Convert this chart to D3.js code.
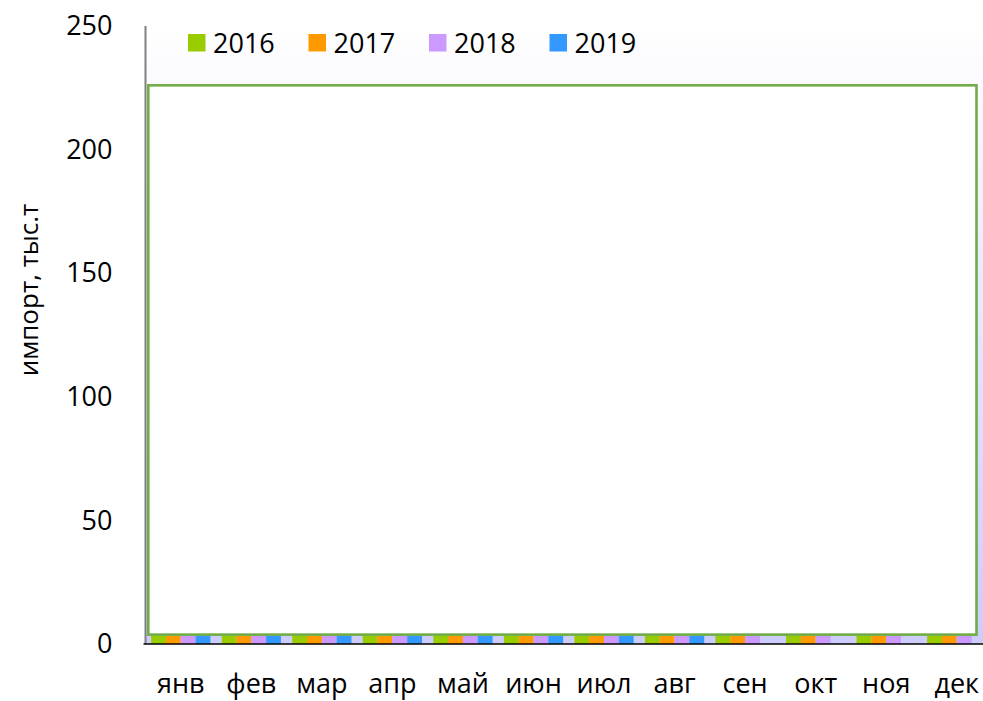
<!DOCTYPE html>
<html><head><meta charset="utf-8">
<script src="https://cdn.jsdelivr.net/npm/d3@7"></script>
<style>body{margin:0;background:#fff;overflow:hidden}</style>
</head><body>
<script>
const months = ["янв","фев","мар","апр","май","июн","июл","авг","сен","окт","ноя","дек"];
const seriesNames = ["2016","2017","2018","2019"];
const v2016 = [3.5,3.5,3.5,3.5,3.5,3.5,3.5,3.5,3.5,3.5,3.5,3.5];
const v2017 = [3.5,3.5,3.5,3.5,3.5,3.5,3.5,3.5,3.5,3.5,3.5,3.5];
const v2018 = [3.5,3.5,3.5,3.5,3.5,3.5,3.5,3.5,3.5,3.5,3.5,3.5];
const v2019 = [3.5,3.5,3.5,3.5,3.5,3.5,3.5,3.5,null,null,null,null];
const colors = ["#99cc00","#ff9900","#cc99ff","#3399ff"];
const yTicks = [0,50,100,150,200,250];
const yTitle = "импорт, тыс.т";
const boxRange = [3.8, 226]; // highlighted frame, in data units

const W = 983, H = 701;
const font = "'Open Sans', 'Liberation Sans', Arial, sans-serif";
const svg = d3.select("body").append("svg").attr("width", W).attr("height", H);
const pLeft = 145.5, pRight = 992, pTop = 26, pBottom = 644;

const x = d3.scaleBand().domain(months).range([pLeft, pRight]).paddingInner(0.16).paddingOuter(0.08);
const xs = d3.scaleBand().domain(seriesNames).range([0, x.bandwidth()]);
const y = d3.scaleLinear().domain([0, 250]).range([pBottom, pTop]);

const defs = svg.append("defs");
const g = defs.append("linearGradient").attr("id","bg").attr("x1",0).attr("y1",0).attr("x2",0).attr("y2",1);
g.append("stop").attr("offset","0%").attr("stop-color","#ffffff");
g.append("stop").attr("offset","100%").attr("stop-color","#ccccff");

svg.append("rect").attr("x", pLeft).attr("y", pTop).attr("width", W - pLeft).attr("height", pBottom - pTop).attr("fill","url(#bg)");

const data = [v2016, v2017, v2018, v2019];
seriesNames.forEach((s, i) => {
  svg.append("g").selectAll("rect").data(months.map((m, j) => ({m, v: data[i][j]})).filter(d => d.v != null))
    .join("rect")
    .attr("x", d => x(d.m) + xs(s))
    .attr("width", xs.bandwidth())
    .attr("y", d => y(d.v))
    .attr("height", d => y(0) - y(d.v))
    .attr("fill", colors[i]);
});

// highlighted frame
svg.append("rect")
  .attr("x", pLeft + 2.8).attr("width", 976.5 - pLeft - 2.8)
  .attr("y", y(boxRange[1])).attr("height", y(boxRange[0]) - y(boxRange[1]))
  .attr("fill", "#ffffff").attr("stroke", "#70ad47").attr("stroke-width", 2.6);

// axes
svg.append("line").attr("x1", pLeft).attr("x2", pLeft).attr("y1", pTop).attr("y2", pBottom)
  .attr("stroke", "#808080").attr("stroke-width", 2);
svg.append("line").attr("x1", pLeft - 2).attr("x2", W).attr("y1", pBottom).attr("y2", pBottom)
  .attr("stroke", "#000").attr("stroke-width", 1.5);

const yAxis = d3.axisLeft(y).tickValues(yTicks).tickSize(0).tickPadding(33);
svg.append("g").attr("transform", `translate(${pLeft},0)`).call(yAxis)
  .call(a => a.select(".domain").remove())
  .selectAll("text").attr("font-family", font).attr("font-size", 27).attr("fill", "#000");

const xAxis = d3.axisBottom(x).tickSize(0).tickPadding(30);
svg.append("g").attr("transform", `translate(0,${pBottom})`).call(xAxis)
  .call(a => a.select(".domain").remove())
  .selectAll("text").attr("font-family", font).attr("font-size", 27).attr("fill", "#000");

svg.append("text").attr("transform", "translate(38,290) rotate(-90)")
  .attr("text-anchor","middle").attr("font-family", font).attr("font-size", 26).text(yTitle);

// legend
const lg = svg.append("g");
seriesNames.forEach((s, i) => {
  const lx = 188 + i * 120.5;
  lg.append("rect").attr("x", lx).attr("y", 34).attr("width", 17.5).attr("height", 17.5).attr("fill", colors[i]);
  lg.append("text").attr("x", lx + 25).attr("y", 52.5).attr("font-family", font).attr("font-size", 27).text(s);
});
</script>
</body></html>
